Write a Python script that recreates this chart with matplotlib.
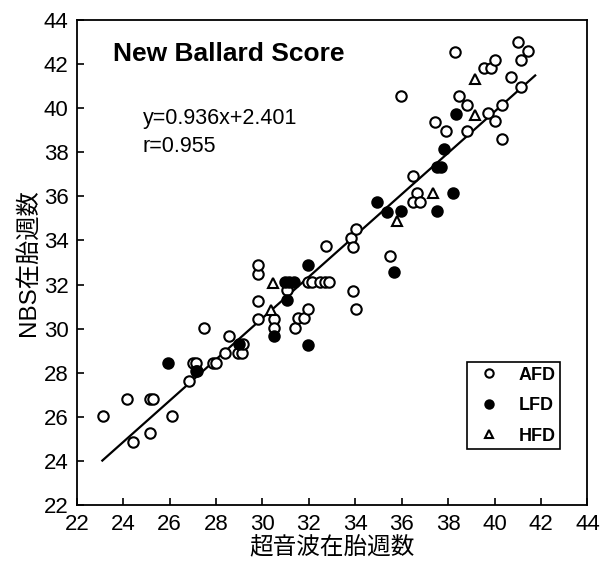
import numpy as np
import matplotlib
matplotlib.use("Agg")
import matplotlib.pyplot as plt

plt.rcParams["font.family"] = ["Liberation Sans", "Noto Sans CJK JP", "DejaVu Sans"]

# AFD (open circles)
afd_x = [23.15, 24.15, 24.4, 25.15, 25.15, 25.3, 26.1, 26.85, 27.0, 27.15,
         27.15, 27.5, 27.85, 28.0, 28.4, 28.55, 28.95, 29.1, 29.15, 29.8,
         29.8, 29.8, 29.8, 30.5, 30.5, 31.05, 31.4, 31.55, 31.8, 31.95,
         31.95, 32.15, 32.5, 32.7, 32.85, 32.75, 33.8, 33.9, 33.9, 34.05,
         34.05, 35.5, 36.5, 36.65, 36.5, 36.8, 35.95, 37.45, 37.9, 38.3,
         38.45, 38.8, 38.8, 39.55, 39.85, 39.7, 40.0, 40.0, 40.3, 40.3,
         40.7, 41.0, 41.15, 41.45, 41.15]
afd_y = [26.05, 26.8, 24.85, 25.25, 26.8, 26.8, 26.05, 27.65, 28.45, 28.45,
         28.1, 30.05, 28.45, 28.45, 28.9, 29.65, 28.9, 28.9, 29.3, 30.45,
         31.25, 32.5, 32.9, 30.45, 30.05, 31.75, 30.05, 30.5, 30.5, 30.9,
         32.1, 32.1, 32.1, 32.1, 32.1, 33.75, 34.1, 33.7, 31.7, 30.9,
         34.5, 33.3, 36.9, 36.15, 35.75, 35.75, 40.55, 39.35, 38.95, 42.55,
         40.55, 40.15, 38.95, 41.8, 41.8, 39.8, 42.2, 39.4, 40.15, 38.6,
         41.4, 43.0, 42.2, 42.6, 40.95]

# LFD (filled circles)
lfd_x = [25.95, 27.2, 29.0, 30.5, 31.05, 30.95, 31.15, 31.35, 31.95, 31.95,
         34.95, 35.35, 35.95, 35.65, 37.5, 37.5, 37.7, 37.8, 38.2, 38.35]
lfd_y = [28.45, 28.1, 29.3, 29.65, 31.3, 32.1, 32.1, 32.1, 32.9, 29.25,
         35.75, 35.3, 35.35, 32.55, 35.35, 37.35, 37.35, 38.15, 36.15, 39.75]

# HFD (open triangles)
hfd_x = [30.45, 30.35, 35.8, 37.35, 39.15, 39.15]
hfd_y = [32.05, 30.85, 34.9, 36.15, 39.7, 41.3]

slope = 0.936
intercept = 2.401
line_x = [23.1, 41.75]

fig = plt.figure(figsize=(6.0, 5.67), dpi=100)
ax = fig.add_axes([0.128, 0.109, 0.851, 0.856])

ms = 7.5
ax.plot(afd_x, afd_y, "o", ms=ms, mfc="white", mec="black", mew=1.5,
        ls="none", label="AFD", zorder=3)
ax.plot(lfd_x, lfd_y, "o", ms=ms, mfc="black", mec="black", mew=1.5,
        ls="none", label="LFD", zorder=3)
ax.plot(hfd_x, hfd_y, "^", ms=ms, mfc="white", mec="black", mew=1.5,
        ls="none", label="HFD", zorder=3)

lx = np.array(line_x)
ax.plot(lx, slope * lx + intercept, color="black", lw=1.6, zorder=2)

ax.set_xlim(22, 44)
ax.set_ylim(22, 44)
ax.set_xticks(np.arange(22, 45, 2))
ax.set_yticks(np.arange(22, 45, 2))
ax.tick_params(direction="in", length=5, width=1.2, labelsize=16, pad=6)
for s in ax.spines.values():
    s.set_linewidth(1.3)

ax.set_xlabel("超音波在胎週数", fontsize=17, labelpad=2)
ax.set_ylabel("NBS在胎週数", fontsize=17.5, labelpad=2)

ax.text(23.55, 42.45, "New Ballard Score", fontsize=19, fontweight="bold",
        va="center", ha="left")
ax.text(24.85, 39.55, f"y={slope}x+{intercept}", fontsize=15.5, va="center", ha="left")
ax.text(24.85, 38.25, "r=0.955", fontsize=15.5, va="center", ha="left")

leg = ax.legend(loc="upper left", bbox_to_anchor=(0.764, 0.295), borderaxespad=0,
                fancybox=False, edgecolor="black", framealpha=1, borderpad=0.25,
                labelspacing=0.75, handletextpad=0.6, handlelength=2.0,
                markerscale=0.8, prop={"weight": "bold", "size": 13})
leg.get_frame().set_linewidth(1.2)

fig.savefig("out.png", dpi=100)
